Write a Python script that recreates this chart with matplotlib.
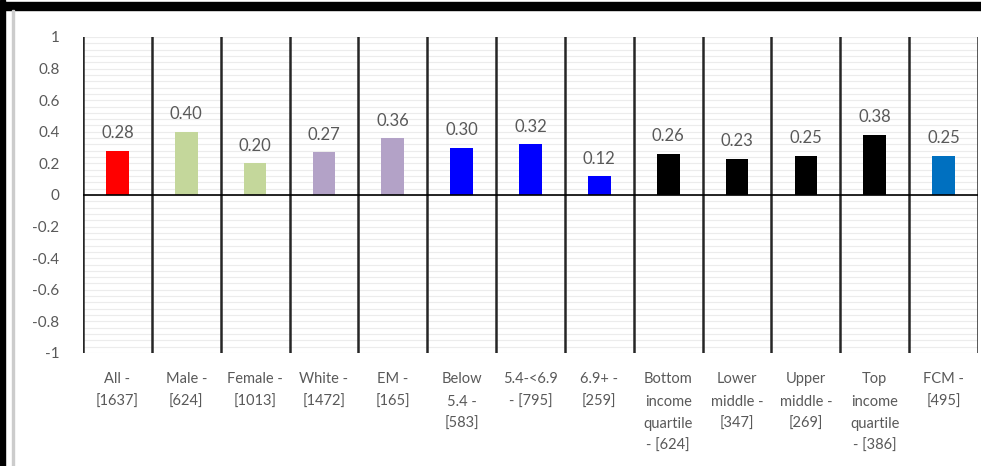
import matplotlib
matplotlib.use("Agg")
import matplotlib.pyplot as plt
from matplotlib.patches import Rectangle
import numpy as np

LABELS = ["All -\n[1637]", "Male -\n[624]", "Female -\n[1013]", "White -\n[1472]",
          "EM -\n[165]", "Below\n5.4 -\n[583]", "5.4-<6.9\n- [795]", "6.9+ -\n[259]",
          "Bottom\nincome\nquartile\n- [624]", "Lower\nmiddle -\n[347]",
          "Upper\nmiddle -\n[269]", "Top\nincome\nquartile\n- [386]", "FCM -\n[495]"]
VALUES = [0.28, 0.40, 0.20, 0.27, 0.36, 0.30, 0.32, 0.12, 0.26, 0.23, 0.25, 0.38, 0.25]
COLORS = ["#FF0000", "#C4D79B", "#C4D79B", "#B3A2C7", "#B3A2C7", "#0000FF", "#0000FF",
          "#0000FF", "#000000", "#000000", "#000000", "#000000", "#0070C0"]
YTICKS = [-1, -0.8, -0.6, -0.4, -0.2, 0, 0.2, 0.4, 0.6, 0.8, 1]
YTICKLABELS = ["-1", "-0.8", "-0.6", "-0.4", "-0.2", "0", "0.2", "0.4", "0.6", "0.8", "1"]

plt.rcParams['font.family'] = ['Lato', 'DejaVu Sans']
txt = "#595959"

fig = plt.figure(figsize=(9.81, 4.66), dpi=100)
ax = fig.add_axes([83 / 981, 1 - 353 / 466, 895 / 981, 316 / 466])

x = np.arange(len(VALUES))
ax.bar(x, VALUES, width=0.33, color=COLORS, zorder=3)
for xi, v in zip(x, VALUES):
    ax.text(xi, v + 0.06, "%.2f" % v, ha="center", va="bottom", fontsize=12, color=txt)

ax.set_xlim(-0.5, len(VALUES) - 0.5)
ax.set_ylim(-1, 1)
ax.set_yticks(YTICKS)
ax.set_yticklabels(YTICKLABELS)

# light minor gridlines
for g in np.arange(-1, 1.001, 0.04):
    ax.axhline(g, color="#ECECEC", lw=0.8, zorder=0)

# category dividers
for d in np.arange(-0.5, len(VALUES), 1.0):
    ax.axvline(d, color="#262626", lw=1.8, zorder=4)
ax.axhline(0, color="black", lw=1.2, zorder=4)

for s in ax.spines.values():
    s.set_visible(False)

ax.set_xticks(x)
ax.set_xticklabels(LABELS, fontsize=10.5, color=txt, linespacing=1.75, va="top")
ax.tick_params(axis="x", length=0, pad=14)
ax.tick_params(axis="y", length=0, labelsize=11, labelcolor=txt, pad=17)

# outer frame of the screenshot
fig.patches.append(Rectangle((0, 1 - 10 / 466), 1, 8 / 466, transform=fig.transFigure,
                             color="black", zorder=10))
fig.patches.append(Rectangle((0, 0), 5 / 981, 1, transform=fig.transFigure,
                             color="black", zorder=10))
fig.patches.append(Rectangle((12 / 981, 0), 1.5 / 981, 1 - 10 / 466, transform=fig.transFigure,
                             color="#CCCCCC", zorder=10))

fig.savefig("out.png", dpi=100)
